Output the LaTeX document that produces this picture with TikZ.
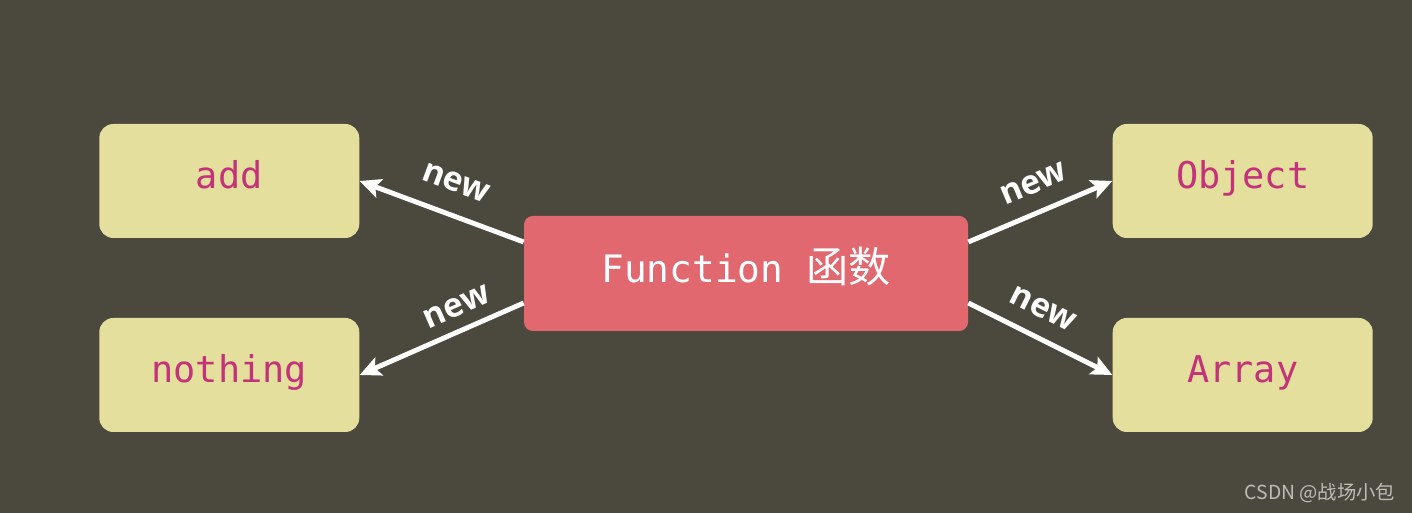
\documentclass[tikz,border=0pt]{standalone}
\usepackage{fontspec}
\usepackage{tikz}
\usetikzlibrary{positioning,arrows.meta}
\newfontfamily\codefont{DejaVu Sans Mono}
\newfontfamily\labelfont{Open Sans}
\newfontfamily\cjkfont{Noto Sans CJK SC}
\definecolor{bgdark}{HTML}{4B483E}
\definecolor{boxyel}{HTML}{E4DF9C}
\definecolor{boxred}{HTML}{E26870}
\definecolor{codemag}{HTML}{C4327A}
\definecolor{markgray}{HTML}{BDBDB6}

\begin{document}
\begin{tikzpicture}[
  node distance=3.28cm and 2.88cm,
  func/.style={fill=boxred, rounded corners=5pt, text=white, font=\codefont\fontsize{21.5}{24}\selectfont, minimum width=8.88cm, minimum height=2.3cm, text height=1.2em, text depth=0.13em},
  inst/.style={fill=boxyel, rounded corners=8pt, text=codemag, font=\codefont\fontsize{21}{24}\selectfont, minimum width=5.2cm, minimum height=2.28cm, text height=1.02em, text depth=0.14em},
  arr/.style={-{Stealth[length=12pt, width=11pt, inset=2.5pt]}, line width=2.8pt, white},
  newlbl/.style={sloped, above=6pt, pos=0.45, text=white, font=\labelfont\bfseries\fontsize{19}{21}\selectfont}]

  \fill[bgdark] (0,0) rectangle (28.24,10.26);
  \useasboundingbox (0,0) rectangle (28.24,10.26);

  \node[func] (fn) at (14.92,4.79) {Function {\cjkfont\fontsize{24}{26}\selectfont 函数}};

  \node[inst, left=3.28cm of fn.west, anchor=east, yshift=1.85cm] (add) {add};
  \node[inst, left=3.28cm of fn.west, anchor=east, yshift=-2.03cm] (nothing) {nothing};
  \node[inst, right=2.88cm of fn.east, anchor=west, yshift=1.85cm] (obj) {Object};
  \node[inst, right=2.88cm of fn.east, anchor=west, yshift=-2.03cm] (arr) {Array};

  \draw[arr] ([yshift=0.63cm]fn.west) -- node[newlbl, pos=0.48, above=8pt] {new} (add.east);
  \draw[arr] ([yshift=-0.59cm]fn.west) -- node[newlbl, pos=0.35, above=3pt] {new} (nothing.east);
  \draw[arr] ([yshift=0.63cm]fn.east) -- node[newlbl, pos=0.53] {new} (obj.west);
  \draw[arr] ([yshift=-0.59cm]fn.east) -- node[newlbl, pos=0.43] {new} (arr.west);

  \node[text=markgray, font=\cjkfont\fontsize{11}{13}\selectfont] (mark) at (26.4,0.4) {CSDN @战场小包};
\end{tikzpicture}
\end{document}
